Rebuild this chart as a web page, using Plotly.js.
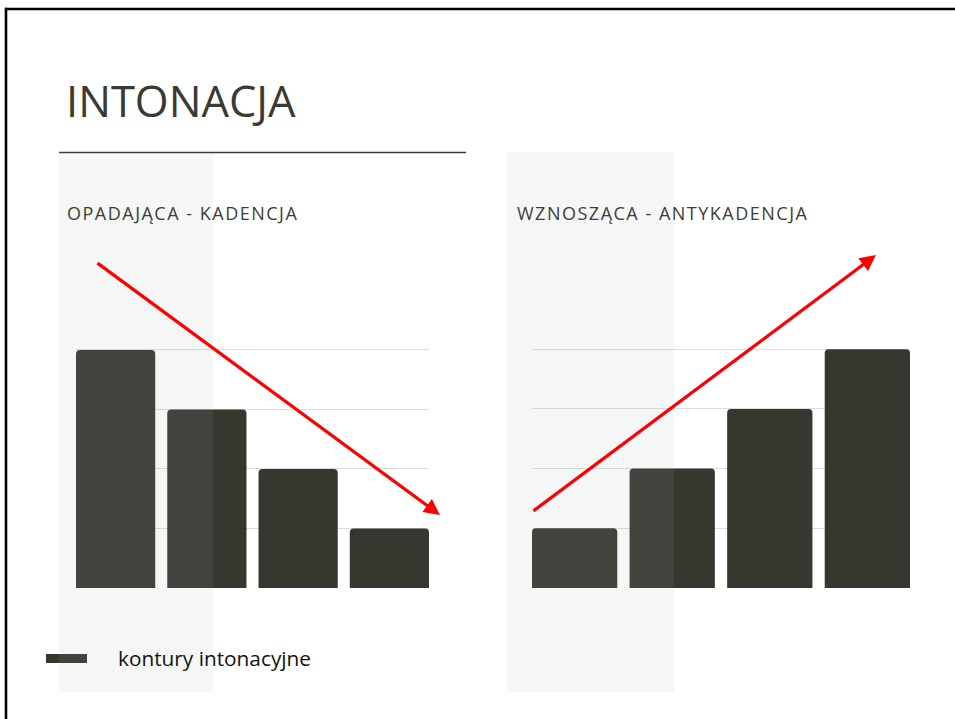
<!DOCTYPE html>
<html>
<head>
<meta charset="utf-8">
<script src="https://cdn.plot.ly/plotly-3.0.1.min.js"></script>
<style>html,body{margin:0;padding:0;background:#fff;overflow:hidden;}#chart{width:955px;height:719px;}</style>
</head>
<body>
<div id="chart"></div>
<script>
// ---- data ----
const categories = ['1', '2', '3', '4'];
const fallingValues = [4, 3, 2, 1];
const risingValues = [1, 2, 3, 4];
const seriesName = 'kontury intonacyjne';
const titleText = 'INTONACJA';
const leftSubtitle = 'OPADAJĄCA - KADENCJA';
const rightSubtitle = 'WZNOSZĄCA - ANTYKADENCJA';
const gridValues = [1, 2, 3, 4];

// ---- helpers (pixel -> paper) ----
const W = 955, H = 719;
const px = x => x / W;
const py = y => 1 - y / H;

const barColor = 'rgb(54,56,48)';
const FONT = '"Open Sans", "Noto Sans", sans-serif';

const traces = [
  {
    type: 'bar', x: categories, y: fallingValues, name: seriesName,
    xaxis: 'x', yaxis: 'y', width: 0.868,
    marker: {color: barColor, cornerradius: 4},
    showlegend: false, hoverinfo: 'y'
  },
  {
    type: 'bar', x: categories, y: risingValues, name: seriesName,
    xaxis: 'x2', yaxis: 'y2', width: 0.874,
    marker: {color: barColor, cornerradius: 4},
    showlegend: false, hoverinfo: 'y'
  },
  {
    // legend entry for the series (its swatch is drawn as a wide bar below)
    type: 'scatter', mode: 'lines', x: [null], y: [null], name: seriesName,
    xaxis: 'x', yaxis: 'y',
    line: {color: 'rgba(0,0,0,0)', width: 9}, showlegend: true, hoverinfo: 'skip'
  }
];

const yCommon = {
  range: [0, 4.06], tickvals: gridValues, showticklabels: false,
  showgrid: true, gridcolor: '#dcdcdc', gridwidth: 1, zeroline: false,
  showline: false, ticks: '', fixedrange: true
};
const xCommon = {
  type: 'category', showticklabels: false, showgrid: false, zeroline: false,
  showline: false, ticks: '', fixedrange: true
};

const spaced = s => '<span style="letter-spacing:1.5px">' + s + '</span>';

const layout = {
  width: W, height: H,
  margin: {l: 0, r: 0, t: 0, b: 0, pad: 0},
  paper_bgcolor: '#ffffff', plot_bgcolor: 'rgba(0,0,0,0)',
  font: {family: FONT, color: '#3a3a33'},
  title: {
    text: titleText, x: px(66), xanchor: 'left', xref: 'paper',
    y: 1 - 102 / H, yanchor: 'middle', yref: 'paper',
    font: {family: FONT, size: 43.5, color: '#3a3a33', weight: 400}
  },
  xaxis: Object.assign({}, xCommon, {domain: [px(76), px(429)], range: [-0.434, 3.434], anchor: 'y'}),
  yaxis: Object.assign({}, yCommon, {domain: [py(588), py(346.4)], anchor: 'x', side: 'right'}),
  xaxis2: Object.assign({}, xCommon, {domain: [px(532), px(910)], range: [-0.437, 3.437], anchor: 'y2'}),
  yaxis2: Object.assign({}, yCommon, {domain: [py(588), py(345.6)], anchor: 'x2', side: 'left'}),
  showlegend: true,
  legend: {
    x: px(40), y: py(658), xanchor: 'left', yanchor: 'middle',
    bgcolor: 'rgba(0,0,0,0)', borderwidth: 0, itemwidth: 68,
    font: {family: FONT, size: 20.8, color: '#111111'}
  },
  shapes: [
    // slide frame (top and left edges)
    {type: 'line', xref: 'paper', yref: 'paper', x0: px(5), x1: 1.02, y0: py(9), y1: py(9),
     line: {color: '#000000', width: 2.6}, layer: 'below'},
    {type: 'line', xref: 'paper', yref: 'paper', x0: px(6), x1: px(6), y0: -0.02, y1: py(7.7),
     line: {color: '#000000', width: 2.6}, layer: 'below'},
    // rule under title
    {type: 'line', xref: 'paper', yref: 'paper', x0: px(59), x1: px(466), y0: py(152.5), y1: py(152.5),
     line: {color: '#3a3a3a', width: 1.6}, layer: 'below'},
    // legend swatch
    {type: 'rect', xref: 'paper', yref: 'paper', x0: px(46), x1: px(87), y0: py(663), y1: py(654),
     line: {width: 0}, fillcolor: barColor, layer: 'below'},
    // translucent overlay columns
    {type: 'rect', xref: 'paper', yref: 'paper', x0: px(59), x1: px(213), y0: py(692), y1: py(153.5),
     line: {width: 0}, fillcolor: 'rgba(160,180,170,0.1)', layer: 'above'},
    {type: 'rect', xref: 'paper', yref: 'paper', x0: px(507), x1: px(674), y0: py(692), y1: py(152),
     line: {width: 0}, fillcolor: 'rgba(160,180,170,0.1)', layer: 'above'}
  ],
  annotations: [
    {text: spaced(leftSubtitle), xref: 'paper', yref: 'paper', x: px(65), y: py(213), xanchor: 'left', yanchor: 'middle',
     showarrow: false, font: {family: FONT, size: 18, color: '#3d3d37'}},
    {text: spaced(rightSubtitle), xref: 'paper', yref: 'paper', x: px(515), y: py(213), xanchor: 'left', yanchor: 'middle',
     showarrow: false, font: {family: FONT, size: 18, color: '#3d3d37'}},
    // falling arrow
    {text: '', xref: 'paper', yref: 'paper', x: px(440), y: py(515), ax: -344, ay: -253,
     showarrow: true, arrowhead: 2, arrowsize: 1, arrowwidth: 3.2, arrowcolor: '#ff0000', standoff: 0},
    // rising arrow
    {text: '', xref: 'paper', yref: 'paper', x: px(876), y: py(255), ax: -344, ay: 257,
     showarrow: true, arrowhead: 2, arrowsize: 1, arrowwidth: 3.2, arrowcolor: '#ff0000', standoff: 0}
  ]
};

Plotly.newPlot('chart', traces, layout, {displayModeBar: false, staticPlot: true});
</script>
</body>
</html>
